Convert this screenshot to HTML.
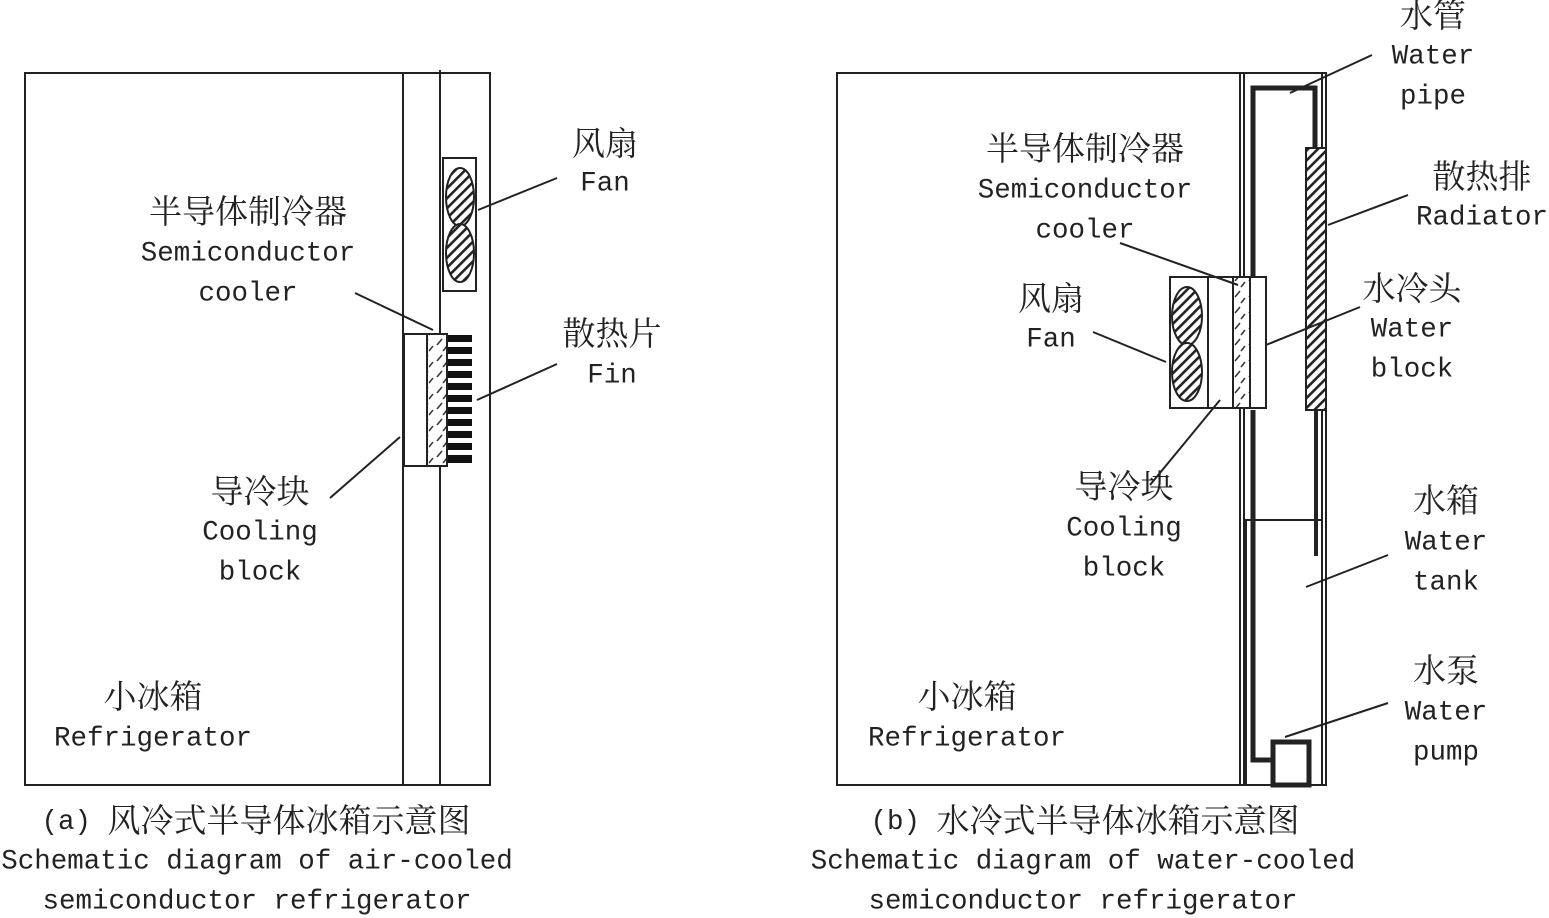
<!DOCTYPE html>
<html><head><meta charset="utf-8"><style>
html,body{margin:0;padding:0;background:#fff;}
svg{display:block}
.c{font-family:"Liberation Serif","Noto Serif CJK SC",serif;font-size:33px;fill:#222;text-anchor:middle;dominant-baseline:central}
.e{font-family:"Liberation Mono",monospace;font-size:27.5px;fill:#222;text-anchor:middle;dominant-baseline:central}
.m{font-family:"Liberation Mono",monospace;font-size:27.5px}
</style></head><body>
<svg width="1549" height="918" viewBox="0 0 1549 918" xmlns="http://www.w3.org/2000/svg">
<defs>
<pattern id="h" width="7" height="7" patternUnits="userSpaceOnUse" patternTransform="rotate(-45)">
<rect width="7" height="7" fill="#fff"/><rect width="7" height="2.6" fill="#222"/></pattern>
<pattern id="d" width="14" height="16" patternUnits="userSpaceOnUse">
<rect width="14" height="16" fill="#fff"/><path d="M3 9 L8 3 M9 15 L13 10" stroke="#333" stroke-width="1.5"/></pattern>
</defs>
<g fill="none" stroke="#222" stroke-width="2">
<rect x="25" y="73" width="465" height="712"/>
<line x1="403" y1="73" x2="403" y2="785"/>
<line x1="440" y1="70" x2="440" y2="785"/>
<rect x="443" y="158" width="33" height="133"/>
<ellipse cx="460" cy="197" rx="14" ry="29" fill="url(#h)"/>
<ellipse cx="460" cy="253" rx="14" ry="29" fill="url(#h)"/>
<rect x="404" y="334" width="43" height="132" fill="#fff"/>
<rect x="427" y="334" width="20" height="132" fill="url(#d)"/>
<line x1="355" y1="293" x2="433" y2="330"/>
<line x1="478" y1="210" x2="557" y2="178"/>
<line x1="477" y1="400" x2="557" y2="364"/>
<line x1="330" y1="498" x2="400" y2="437"/>
</g>
<g fill="#111">
<rect x="448" y="335" width="24" height="7"/><rect x="448" y="347" width="24" height="7"/>
<rect x="448" y="359" width="24" height="7"/><rect x="448" y="371" width="24" height="7"/>
<rect x="448" y="383" width="24" height="7"/><rect x="448" y="395" width="24" height="7"/>
<rect x="448" y="407" width="24" height="7"/><rect x="448" y="419" width="24" height="7"/>
<rect x="448" y="431" width="24" height="7"/><rect x="448" y="443" width="24" height="7"/>
<rect x="448" y="455" width="24" height="8"/>
</g>
<g fill="none" stroke="#222" stroke-width="2">
<rect x="837" y="73" width="489" height="712"/>
<line x1="1240" y1="73" x2="1240" y2="785"/>
<line x1="1244" y1="73" x2="1244" y2="785"/>
<line x1="1322" y1="73" x2="1322" y2="785"/>
<rect x="1246" y="520" width="76" height="265"/>
<path d="M1253 410 L1253 760 L1272 760" stroke-width="5"/>
<path d="M1253 277 L1253 88 L1315 88 L1315 150" stroke-width="5"/>
<line x1="1316" y1="410" x2="1316" y2="556" stroke-width="4"/>
<rect x="1273" y="742" width="36" height="43" stroke-width="5"/>
<rect x="1306" y="148" width="20" height="262" fill="url(#h)"/>
<rect x="1170" y="277" width="38" height="131"/>
<ellipse cx="1187" cy="316" rx="15" ry="29" fill="url(#h)"/>
<ellipse cx="1187" cy="372" rx="15" ry="29" fill="url(#h)"/>
<rect x="1208" y="277" width="58" height="131" fill="#fff"/>
<rect x="1233" y="277" width="17" height="131" fill="url(#d)"/>
<line x1="1290" y1="93" x2="1372" y2="55"/>
<line x1="1328" y1="225" x2="1408" y2="195"/>
<line x1="1120" y1="243" x2="1238" y2="285"/>
<line x1="1266" y1="345" x2="1360" y2="307"/>
<line x1="1093" y1="332" x2="1166" y2="362"/>
<line x1="1150" y1="485" x2="1220" y2="400"/>
<line x1="1306" y1="587" x2="1388" y2="555"/>
<line x1="1285" y1="737" x2="1388" y2="703"/>
</g>
<text class="c" x="605" y="145">风扇</text><text class="e" x="605" y="184">Fan</text>
<text class="c" x="248" y="213">半导体制冷器</text><text class="e" x="248" y="254">Semiconductor</text><text class="e" x="248" y="294">cooler</text>
<text class="c" x="612" y="335">散热片</text><text class="e" x="612" y="376">Fin</text>
<text class="c" x="260" y="493">导冷块</text><text class="e" x="260" y="533">Cooling</text><text class="e" x="260" y="573">block</text>
<text class="c" x="153" y="698">小冰箱</text><text class="e" x="153" y="739">Refrigerator</text>
<text class="c" x="256" y="822"><tspan class="m">(a) </tspan>风冷式半导体冰箱示意图</text>
<text class="e" x="257" y="862">Schematic diagram of air-cooled</text>
<text class="e" x="257" y="902">semiconductor refrigerator</text>
<text class="c" x="1433" y="17">水管</text><text class="e" x="1433" y="57">Water</text><text class="e" x="1433" y="97">pipe</text>
<text class="c" x="1085" y="150">半导体制冷器</text><text class="e" x="1085" y="191">Semiconductor</text><text class="e" x="1085" y="231">cooler</text>
<text class="c" x="1482" y="178">散热排</text><text class="e" x="1482" y="218">Radiator</text>
<text class="c" x="1051" y="300">风扇</text><text class="e" x="1051" y="340">Fan</text>
<text class="c" x="1412" y="290">水冷头</text><text class="e" x="1412" y="330">Water</text><text class="e" x="1412" y="370">block</text>
<text class="c" x="1124" y="488">导冷块</text><text class="e" x="1124" y="529">Cooling</text><text class="e" x="1124" y="569">block</text>
<text class="c" x="1446" y="502">水箱</text><text class="e" x="1446" y="543">Water</text><text class="e" x="1446" y="583">tank</text>
<text class="c" x="1446" y="672">水泵</text><text class="e" x="1446" y="713">Water</text><text class="e" x="1446" y="753">pump</text>
<text class="c" x="967" y="698">小冰箱</text><text class="e" x="967" y="739">Refrigerator</text>
<text class="c" x="1085" y="822"><tspan class="m">(b) </tspan>水冷式半导体冰箱示意图</text>
<text class="e" x="1083" y="862">Schematic diagram of water-cooled</text>
<text class="e" x="1083" y="902">semiconductor refrigerator</text>
</svg>
</body></html>
